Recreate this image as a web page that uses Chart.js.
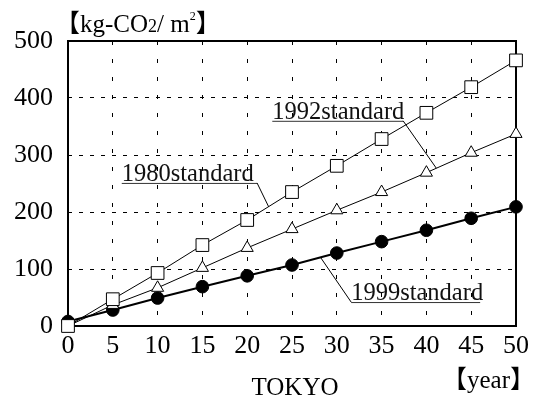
<!DOCTYPE html>
<html lang="en">
<head>
<meta charset="UTF-8" />
<title>CO2 per m2 - TOKYO</title>
<script src="https://cdn.jsdelivr.net/npm/chart.js@4.4.0/dist/chart.umd.min.js"></script>
<style>
  html, body { margin: 0; padding: 0; background: #fff; }
  #wrap { width: 534px; height: 400px; }
</style>
</head>
<body>
<div id="wrap"><canvas id="co2Chart" width="534" height="400"></canvas></div>
<script>
// values
const years = [0, 5, 10, 15, 20, 25, 30, 35, 40, 45, 50];
const std1980 = [0, 47, 93, 142, 186, 235, 281, 328, 374, 419, 466];
const std1992 = [0, 37, 67, 102, 137, 170, 203, 235, 269, 304, 337];
const std1999 = [8, 28, 49, 69, 88, 107, 128, 148, 168, 189, 209];
const yTicks = [0, 100, 200, 300, 400, 500];
const xTicks = years;

const SERIF = "'Liberation Serif', 'Noto Sans CJK JP', serif";

// label text, left edge x, underline y, end of underline x, leader end (data units)
const notes = [
  { text: "1980standard", x: 6.0, y: 251, x2: 21.1, lx: 22.4, ly: 209, leaderFrom: "right" },
  { text: "1992standard", x: 22.8, y: 360, x2: 37.4, lx: 41.1, ly: 277, leaderFrom: "right" },
  { text: "1999standard", x: 31.6, y: 42, x2: 46.0, lx: 28.2, ly: 120, leaderFrom: "left" }
];

function toPoints(xs, ys) {
  return xs.map((x, i) => ({ x: x, y: ys[i] }));
}

const decorations = {
  id: "decorations",
  beforeDatasetsDraw(chart) {
    const { ctx, chartArea: a } = chart;
    ctx.save();
    ctx.strokeStyle = "#000";
    ctx.lineWidth = 2;
    ctx.setLineDash([]);
    ctx.strokeRect(a.left, a.top, a.right - a.left, a.bottom - a.top);
    ctx.restore();
  },
  afterDatasetsDraw(chart) {
    const { ctx } = chart;
    const xs = chart.scales.x, ys = chart.scales.y;
    ctx.save();
    ctx.font = "24.5px " + SERIF;
    ctx.fillStyle = "#111";
    ctx.textBaseline = "alphabetic";
    notes.forEach(n => {
      const x1 = xs.getPixelForValue(n.x);
      const x2 = xs.getPixelForValue(n.x2);
      const y = ys.getPixelForValue(n.y);
      ctx.fillText(n.text, x1, y - 2);
      ctx.strokeStyle = "#333";
      ctx.lineWidth = 1;
      ctx.beginPath();
      ctx.moveTo(x1, y + 0.5);
      ctx.lineTo(x2, y + 0.5);
      ctx.stroke();
      ctx.strokeStyle = "#000";
      ctx.beginPath();
      ctx.moveTo(n.leaderFrom === "left" ? x1 : x2, y);
      ctx.lineTo(xs.getPixelForValue(n.lx), ys.getPixelForValue(n.ly));
      ctx.stroke();
    });
    ctx.restore();
  },
  afterDraw(chart) {
    const { ctx } = chart;
    ctx.save();
    ctx.fillStyle = "#000";
    ctx.textBaseline = "alphabetic";
    // y axis unit
    let x = 55;
    const base = 32;
    const part = (t, size, dy) => {
      ctx.font = size + "px " + SERIF;
      ctx.fillText(t, x, base + (dy || 0));
      x += ctx.measureText(t).width;
    };
    part("\u3010", 25);
    part("kg-CO", 25);
    part("2", 18, 0);
    part("/ m", 25);
    part("2", 12, -12);
    part("\u3011", 25);
    // x axis labels
    ctx.font = "25px " + SERIF;
    ctx.textAlign = "center";
    ctx.fillText("TOKYO", 295, 395);
    ctx.textAlign = "left";
    ctx.fillText("\u3010year\u3011", 442, 388);
    ctx.restore();
  }
};

const ctx = document.getElementById("co2Chart").getContext("2d");
new Chart(ctx, {
  type: "line",
  data: {
    datasets: [
      {
        label: "1980standard",
        data: toPoints(years, std1980),
        borderColor: "#000",
        borderWidth: 1,
        pointStyle: "rect",
        pointRadius: 9,
        pointBackgroundColor: "#fff",
        pointBorderColor: "#000",
        pointBorderWidth: 1,
        fill: false,
        clip: false
      },
      {
        label: "1992standard",
        data: toPoints(years, std1992),
        borderColor: "#000",
        borderWidth: 1,
        pointStyle: "triangle",
        pointRadius: 7,
        pointBackgroundColor: "#fff",
        pointBorderColor: "#000",
        pointBorderWidth: 1,
        fill: false,
        clip: false
      },
      {
        label: "1999standard",
        data: toPoints(years, std1999),
        borderColor: "#000",
        borderWidth: 2,
        pointStyle: "circle",
        pointRadius: 6.3,
        pointBackgroundColor: "#000",
        pointBorderColor: "#000",
        pointBorderWidth: 1,
        fill: false,
        clip: false
      }
    ]
  },
  options: {
    responsive: false,
    animation: false,
    layout: { padding: { top: 41, right: 16, left: 0, bottom: 0 } },
    plugins: {
      legend: { display: false },
      tooltip: { enabled: false }
    },
    scales: {
      x: {
        type: "linear",
        min: 0,
        max: 50,
        afterBuildTicks: s => { s.ticks = xTicks.map(v => ({ value: v })); },
        afterFit: s => { s.height = 74; },
        ticks: { color: "#000", padding: 5, font: { family: SERIF, size: 26 } },
        grid: { color: "#000", lineWidth: 1, drawTicks: false },
        border: { display: false, dash: [4, 14] }
      },
      y: {
        type: "linear",
        min: 0,
        max: 500,
        afterBuildTicks: s => { s.ticks = yTicks.map(v => ({ value: v })); },
        afterFit: s => { s.width = 68; },
        ticks: { color: "#000", padding: 15, font: { family: SERIF, size: 26 } },
        grid: { color: "#000", lineWidth: 1, drawTicks: false },
        border: { display: false, dash: [4, 7] }
      }
    }
  },
  plugins: [decorations]
});
</script>
</body>
</html>
